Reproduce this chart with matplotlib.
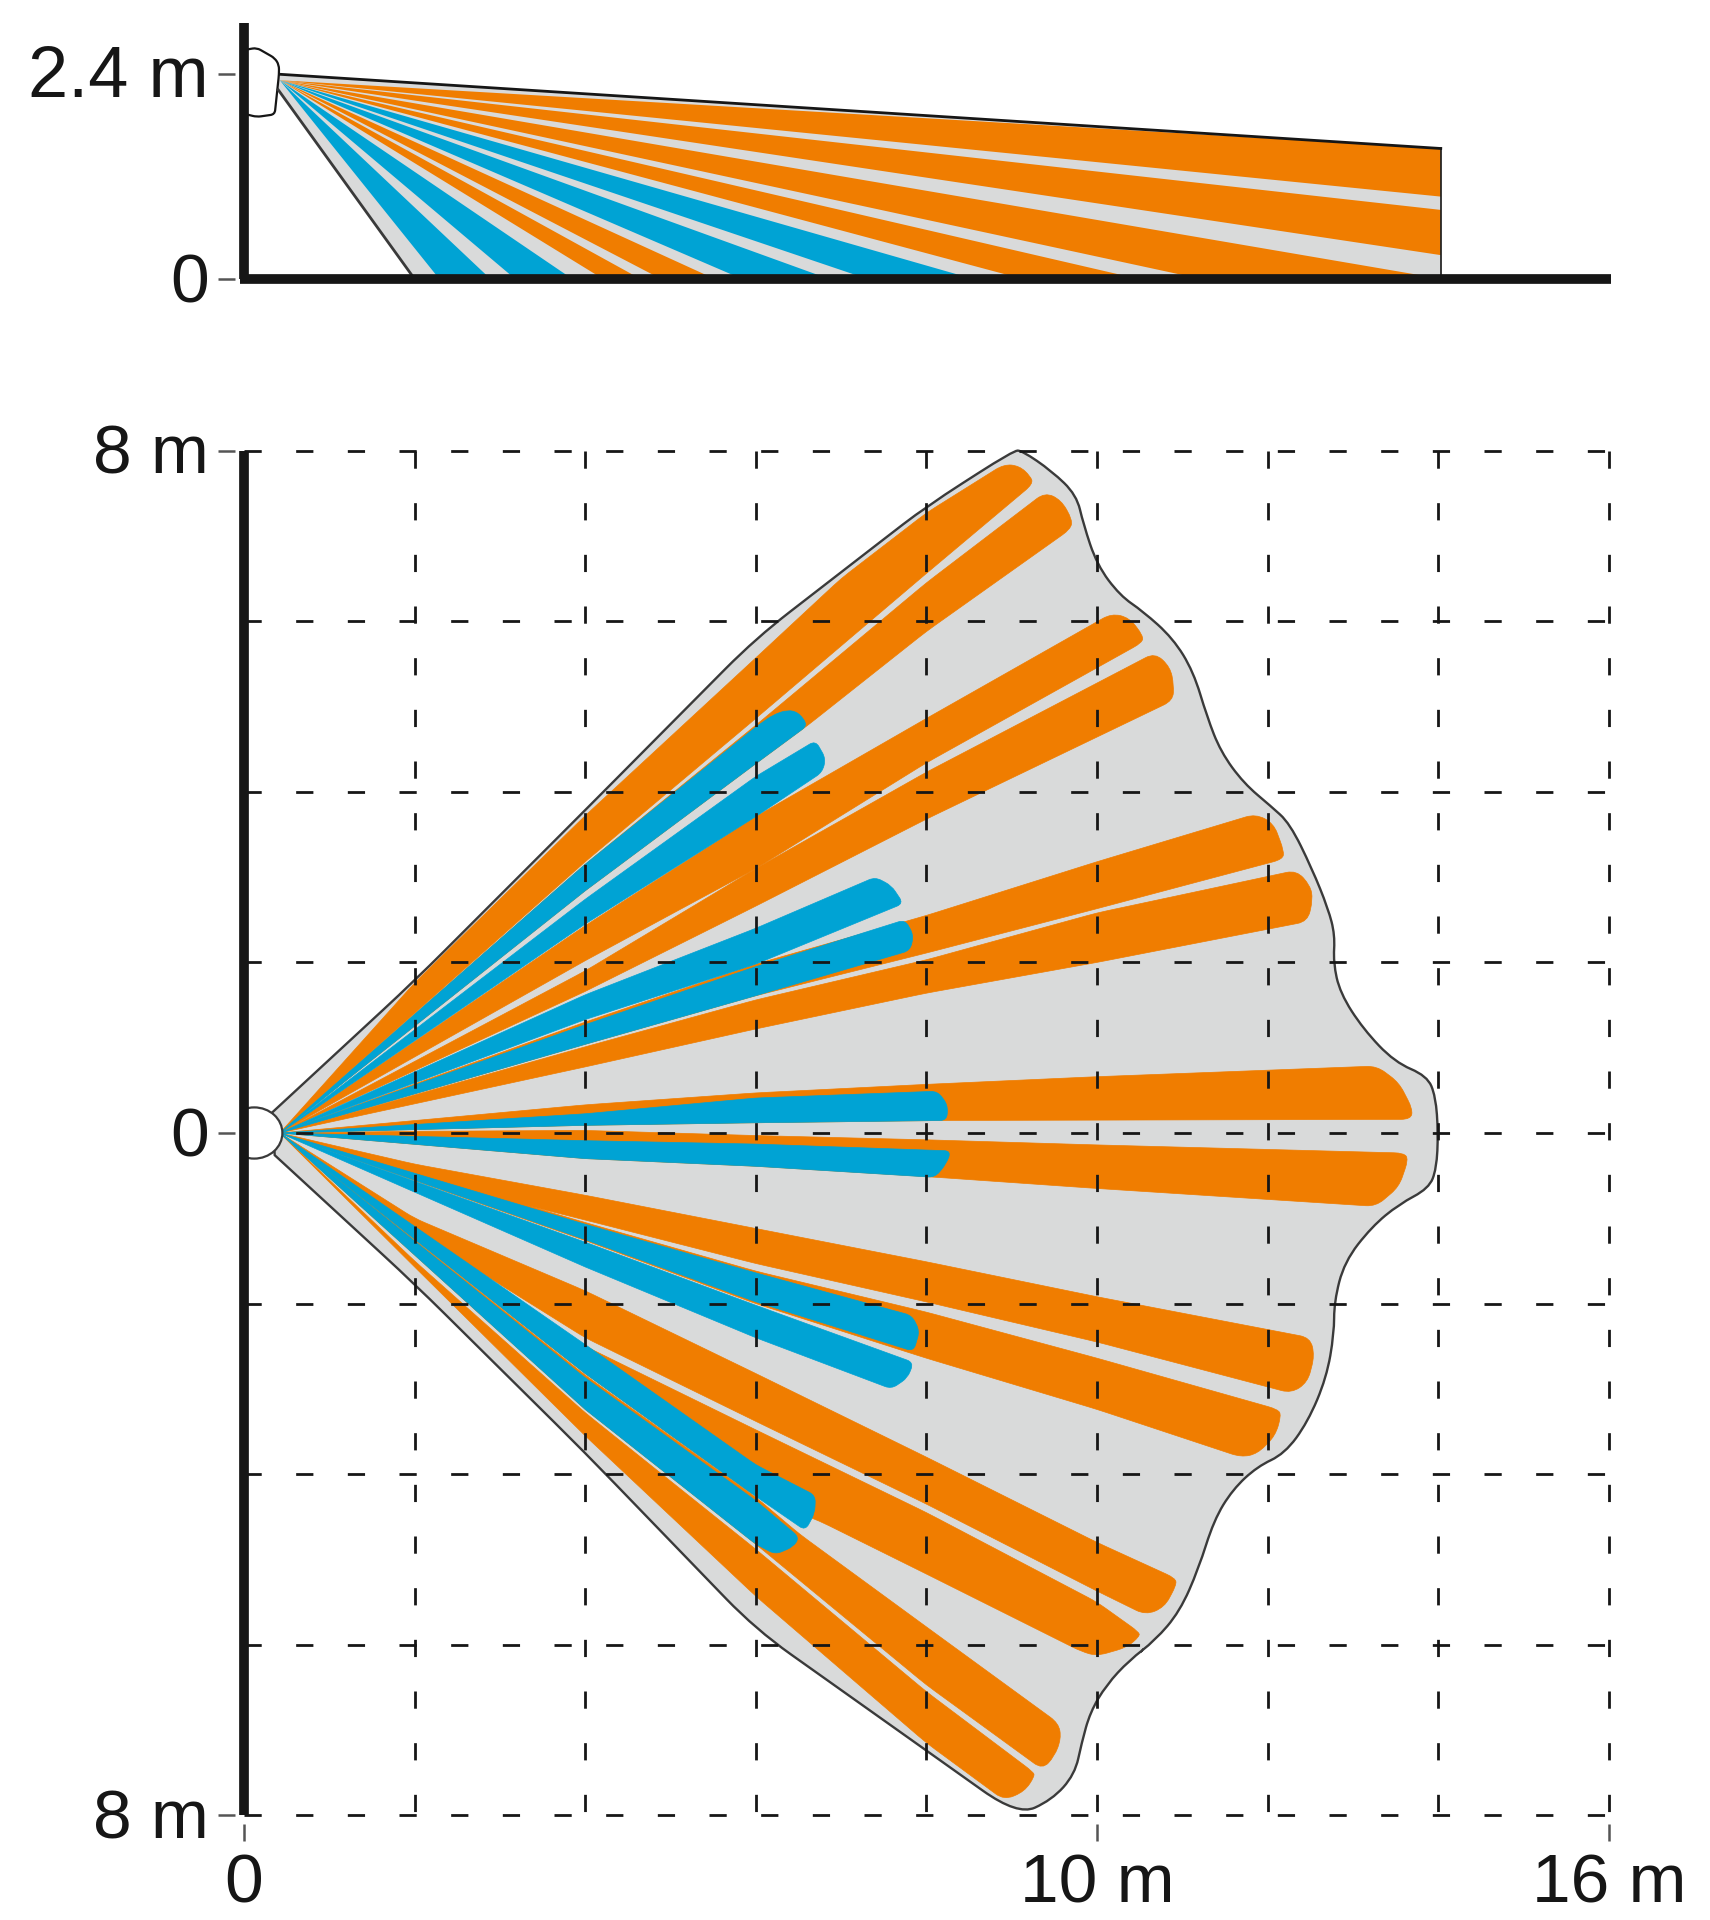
import matplotlib
matplotlib.use("Agg")
import numpy as np
import matplotlib.pyplot as plt
from matplotlib.patches import Ellipse, PathPatch, Polygon, Rectangle
from matplotlib.path import Path

plt.rcParams["font.family"] = ["Liberation Sans", "DejaVu Sans"]

ORANGE = "#F07D00"
BLUE = "#00A3D4"
GRAY = "#D9DADA"
DARK = "#3A3A3A"
BLACK = "#161616"

# side view: edges of each beam where it leaves the picture (m)
apex_side = (0.42, 2.33)
side_top = [(0.42, 2.40), (14.03, 1.53)]
side_left = [(0.40, 2.22), (2.0, 0.0)]
wall_x = 14.03
wall_beams = [(1.53, 0.966), (0.81, 0.28)]
floor_orange = [(14.05, 11.22), (10.49, 9.13), (5.52, 4.89), (4.65, 4.21)]
floor_blue = [(8.55, 7.31), (6.86, 5.84), (3.85, 3.18), (2.89, 2.29)]
sensor_side = [(0.03, 2.69), (0.15, 2.71), (0.36, 2.59), (0.41, 2.51), (0.41, 2.40),
               (0.36, 1.93), (0.15, 1.90), (0.03, 1.93)]

# top view: detection area outline (m)
apex = (0.42, 0.0)
outline_x = [0.33, 2.0, 4.0, 6.0, 7.46, 8.0, 9.02, 9.12, 9.47, 9.76, 9.84, 10.0, 10.27, 10.54,
             10.89, 11.13, 11.29, 11.45, 11.72, 12.04, 12.26, 12.52, 12.71, 12.79, 12.77, 12.85,
             13.12, 13.49, 13.87, 13.97, 14.0, 13.98, 13.89, 13.54, 13.22, 12.9, 12.78, 12.78,
             12.69, 12.47, 12.2, 11.88, 11.59, 11.37, 11.19, 10.97, 10.68, 10.38, 10.11, 9.92,
             9.82, 9.74, 9.47, 9.07, 8.0, 6.0, 4.0, 2.0, 0.36]
outline_y = [0.24, 1.785, 3.785, 5.80, 6.93, 7.346, 8.0, 8.0, 7.76, 7.48, 7.14, 6.66, 6.3, 6.115,
             5.80, 5.41, 4.88, 4.47, 4.10, 3.83, 3.63, 3.10, 2.63, 2.32, 2.0, 1.64,
             1.22, 0.83, 0.67, 0.43, 0.0, -0.42, -0.65, -0.835, -1.10, -1.51, -1.98, -2.35,
             -2.87, -3.39, -3.76, -3.91, -4.18, -4.54, -5.11, -5.61, -5.95, -6.18, -6.47, -6.79,
             -7.15, -7.52, -7.82, -8.0, -7.24, -5.82, -3.75, -1.77, -0.26]

# top view: orange beams, apex -> upper edge -> cap -> lower edge (m)
beam_u1 = [(2.0, 1.76), (4.0, 3.72), (6.0, 5.57), (7.0, 6.5), (8.0, 7.27), (8.91, 7.84), (9.09, 7.82),
           (9.22, 7.7), (9.25, 7.61), (8.0, 6.56), (6.0, 4.86), (4.0, 3.18)]
beam_u2 = [(4.0, 3.15), (6.0, 4.78), (8.0, 6.45), (9.39, 7.51), (9.58, 7.42), (9.71, 7.19), (9.69, 7.08),
           (8.0, 5.88), (6.61, 4.78), (6.0, 4.33), (4.0, 2.84)]
beam_u3 = [(4.0, 2.43), (6.0, 3.71), (8.0, 4.86), (10.17, 6.09), (10.38, 6.04), (10.54, 5.83), (10.53, 5.75),
           (8.0, 4.34), (6.0, 3.10), (4.0, 2.02)]
beam_u4 = [(4.0, 1.9), (6.0, 3.10), (8.0, 4.23), (10.68, 5.63), (10.86, 5.46), (10.9, 5.25), (10.89, 5.07),
           (8.0, 3.68), (6.0, 2.66), (4.0, 1.66)]
beam_u5 = [(4.0, 1.30), (6.0, 1.98), (8.0, 2.55), (10.0, 3.18), (11.86, 3.74), (12.07, 3.63), (12.19, 3.31),
           (12.18, 3.21), (10.0, 2.63), (8.0, 2.11), (6.0, 1.61), (4.0, 1.04)]
beam_u6 = [(4.0, 1.01), (6.0, 1.56), (8.0, 2.03), (10.0, 2.58), (12.34, 3.08), (12.5, 2.9), (12.53, 2.74),
           (12.47, 2.48), (10.0, 2.0), (8.0, 1.64), (6.0, 1.22), (4.0, 0.775)]
beam_c1 = [(4.0, 0.33), (6.0, 0.47), (8.0, 0.57), (10.0, 0.66), (13.28, 0.785), (13.54, 0.59), (13.7, 0.28),
           (13.68, 0.16), (8.24, 0.147), (6.0, 0.12), (4.0, 0.09)]
beam_c2 = [(2.0, 0.02), (4.0, 0.03), (6.0, -0.03), (8.0, -0.08), (10.0, -0.14), (13.6, -0.235), (13.65, -0.31),
           (13.54, -0.63), (13.27, -0.86), (10.0, -0.65), (8.13, -0.52), (6.0, -0.39), (4.0, -0.30)]
beam_l1 = [(2.0, -0.365), (4.0, -0.73), (6.0, -1.12), (8.0, -1.51), (10.0, -1.92), (12.5, -2.4), (12.55, -2.61),
           (12.47, -2.92), (12.28, -3.05), (10.0, -2.45), (8.0, -1.98), (6.0, -1.53), (4.0, -1.02), (2.0, -0.52)]
beam_l2 = [(4.0, -1.05), (6.0, -1.62), (8.0, -2.10), (10.0, -2.64), (12.12, -3.24), (12.16, -3.31),
           (12.09, -3.55), (11.88, -3.76), (11.69, -3.8), (10.0, -3.24), (8.0, -2.64), (6.0, -2.0), (4.0, -1.26)]
beam_l4 = [(2.0, -1.0), (4.0, -1.85), (6.0, -2.82), (8.0, -3.80), (10.0, -4.80), (10.92, -5.22), (10.93, -5.3),
           (10.79, -5.56), (10.57, -5.65), (10.0, -5.37), (8.0, -4.35), (6.0, -3.38), (4.0, -2.40), (2.0, -1.15)]
beam_l5 = [(4.0, -2.5), (6.0, -3.48), (8.0, -4.45), (10.0, -5.50), (10.49, -5.85), (10.5, -5.9), (10.35, -6.03),
           (10.0, -6.13), (9.82, -6.08), (8.0, -5.17), (6.75, -4.55), (6.0, -4.26), (4.0, -2.82)]
beam_l6 = [(4.0, -2.84), (6.0, -4.27), (6.51, -4.70), (8.0, -5.79), (9.55, -6.92), (9.58, -7.1), (9.5, -7.31),
           (9.36, -7.46), (8.0, -6.47), (6.0, -4.82), (4.0, -3.24)]
beam_l7 = [(2.0, -1.5), (4.0, -3.28), (6.0, -4.88), (8.0, -6.55), (9.25, -7.49), (9.27, -7.54),
           (9.15, -7.72), (8.91, -7.82), (8.0, -7.15), (6.0, -5.43), (4.0, -3.55), (2.0, -1.57)]

# top view: blue near zones
near_u1 = [(4.0, 3.15), (6.0, 4.76), (6.2, 4.9), (6.37, 4.96), (6.5, 4.93), (6.61, 4.78), (6.0, 4.33), (4.0, 2.84)]
near_u2 = [(4.0, 2.74), (6.0, 4.18), (6.70, 4.60), (6.82, 4.39), (6.78, 4.23), (6.0, 3.71), (4.0, 2.45)]
near_u3 = [(4.0, 1.62), (6.0, 2.40), (7.40, 3.0), (7.59, 2.9), (7.73, 2.69), (6.0, 1.98), (4.0, 1.33)]
near_u5 = [(4.0, 1.27), (6.0, 1.95), (7.75, 2.50), (7.85, 2.32), (7.81, 2.14), (6.0, 1.61), (4.0, 1.04)]
near_c1 = [(4.0, 0.225), (6.0, 0.41), (8.13, 0.49), (8.25, 0.33), (8.24, 0.147), (6.0, 0.12), (4.0, 0.09)]
near_c2 = [(4.0, -0.09), (6.0, -0.13), (8.29, -0.21), (8.23, -0.365), (8.1, -0.52), (6.0, -0.39), (4.0, -0.30)]
near_l2 = [(4.0, -1.07), (6.0, -1.64), (7.83, -2.14), (7.92, -2.32), (7.85, -2.56), (6.0, -1.98), (4.0, -1.25)]
near_l3 = [(4.0, -1.28), (6.0, -2.02), (7.85, -2.69), (7.78, -2.87), (7.59, -3.0), (6.0, -2.40), (4.0, -1.57)]
near_l5 = [(4.0, -2.48), (6.0, -3.89), (6.70, -4.25), (6.69, -4.46), (6.58, -4.66), (6.0, -4.26), (4.0, -2.82)]
near_l6 = [(4.0, -2.87), (6.0, -4.31), (6.51, -4.74), (6.44, -4.85), (6.23, -4.94), (6.0, -4.82), (4.0, -3.24)]

orange_beams = [beam_u1, beam_u2, beam_u3, beam_u4, beam_u5, beam_u6, beam_c1, beam_c2,
                beam_l1, beam_l2, beam_l4, beam_l5, beam_l6, beam_l7]
blue_zones = [near_u1, near_u2, near_u3, near_u5, near_c1, near_c2, near_l2, near_l3, near_l5, near_l6]

grid_x = [2, 4, 6, 8, 10, 12, 14, 16]
grid_y = [8, 6, 4, 2, 0, -2, -4, -6, -8]
bottom_ticks = [0, 10, 16]
bottom_labels = ["0", "10 m", "16 m"]

W, H = 1710, 1920
SCALE = 85.3    # px per metre
X0 = 244


def make_axes(y0_px, top_px, bottom_px):
    # axes in metres, same scale for both views
    ax = fig.add_axes([0, 1 - bottom_px / H, 1, (bottom_px - top_px) / H])
    ax.set_xlim(-X0 / SCALE, (W - X0) / SCALE)
    ax.set_ylim((y0_px - bottom_px) / SCALE, (y0_px - top_px) / SCALE)
    ax.axis("off")
    return ax


def rounded_patch(pts, r, **kw):
    # closed path, every inner corner turned into a small curve of size r
    pts = [np.array(p, dtype=float) for p in pts]
    verts = [pts[0]]
    codes = [Path.MOVETO]
    for a, b, c in zip(pts[:-2], pts[1:-1], pts[2:]):
        ab = np.hypot(*(a - b))
        bc = np.hypot(*(c - b))
        verts += [b + (a - b) * min(r, ab / 2) / ab, b, b + (c - b) * min(r, bc / 2) / bc]
        codes += [Path.LINETO, Path.CURVE3, Path.CURVE3]
    verts += [pts[-1], pts[0]]
    codes += [Path.LINETO, Path.CLOSEPOLY]
    return PathPatch(Path(verts, codes), **kw)


def tick_label(ax, y, text, size=50):
    ax.plot([-0.31, -0.11], [y, y], color="#555555", lw=1.8, solid_capstyle="butt")
    ax.text(-0.41, y - 0.27, text, ha="right", va="baseline", fontsize=size, color=BLACK)


fig = plt.figure(figsize=(W / 100, H / 100), dpi=100)

# side view
ax = make_axes(279, 0, 345)
ax.add_patch(Polygon([side_top[0], side_top[1], (wall_x, 0), side_left[1], side_left[0]],
                     closed=True, fc=GRAY, ec="none"))
for upper, lower in wall_beams:
    ax.fill([apex_side[0], wall_x, wall_x], [apex_side[1], upper, lower], color=ORANGE, lw=0)
for far, near in floor_orange:
    ax.fill([apex_side[0], far, near], [apex_side[1], 0, 0], color=ORANGE, lw=0)
for far, near in floor_blue:
    ax.fill([apex_side[0], far, near], [apex_side[1], 0, 0], color=BLUE, lw=0)
ax.plot(*zip(*side_top), color=BLACK, lw=2.0)
ax.plot(*zip(*side_left), color=DARK, lw=2.0)
ax.plot([wall_x, wall_x], [side_top[1][1], 0], color=BLACK, lw=1.2)
ax.add_patch(rounded_patch(sensor_side, 0.05, fc="white", ec=BLACK, lw=1.6))
ax.plot([0, 0], [0, 3.0], color=BLACK, lw=7.0, solid_capstyle="butt")
ax.plot([-0.05, 16.03], [0, 0], color=BLACK, lw=7.0, solid_capstyle="butt")
tick_label(ax, 2.4, "2.4 m", size=52)
tick_label(ax, 0, "0")

# top view
ax = make_axes(1133, 345, H)
ax.add_patch(rounded_patch(list(zip(outline_x, outline_y)), 0.5, fc=GRAY, ec=DARK, lw=1.7, zorder=1))
for beam in orange_beams:
    ax.add_patch(rounded_patch([apex] + beam, 0.12, fc=ORANGE, ec=ORANGE, lw=0.5, zorder=2))
for zone in blue_zones:
    ax.add_patch(rounded_patch([apex] + zone, 0.08, fc=BLUE, ec=BLUE, lw=0.5, zorder=3))

dash = (0, (6.2, 12.4))
for x in grid_x:
    ax.plot([x, x], [8, -8], color=BLACK, lw=2.0, ls=dash, dash_capstyle="butt", zorder=4)
for y in grid_y:
    ax.plot([0, 16], [y, y], color=BLACK, lw=2.0, ls=dash, dash_capstyle="butt", zorder=4)

sensor = Ellipse((0.12, 0), 0.66, 0.6, fc="white", ec=DARK, lw=1.6, zorder=5)
ax.add_patch(sensor)
sensor.set_clip_path(Rectangle((0, -1), 2, 2, transform=ax.transData))
ax.plot([0, 0], [8, -8], color=BLACK, lw=7.0, solid_capstyle="butt", zorder=6)

tick_label(ax, 8, "8 m")
tick_label(ax, 0, "0")
tick_label(ax, -8, "8 m")
for x, label in zip(bottom_ticks, bottom_labels):
    ax.plot([x, x], [-8.1, -8.3], color="#555555", lw=1.8, solid_capstyle="butt")
    ax.text(x, -9.02, label, ha="center", va="baseline", fontsize=50, color=BLACK)

fig.savefig("out.png", dpi=100)
